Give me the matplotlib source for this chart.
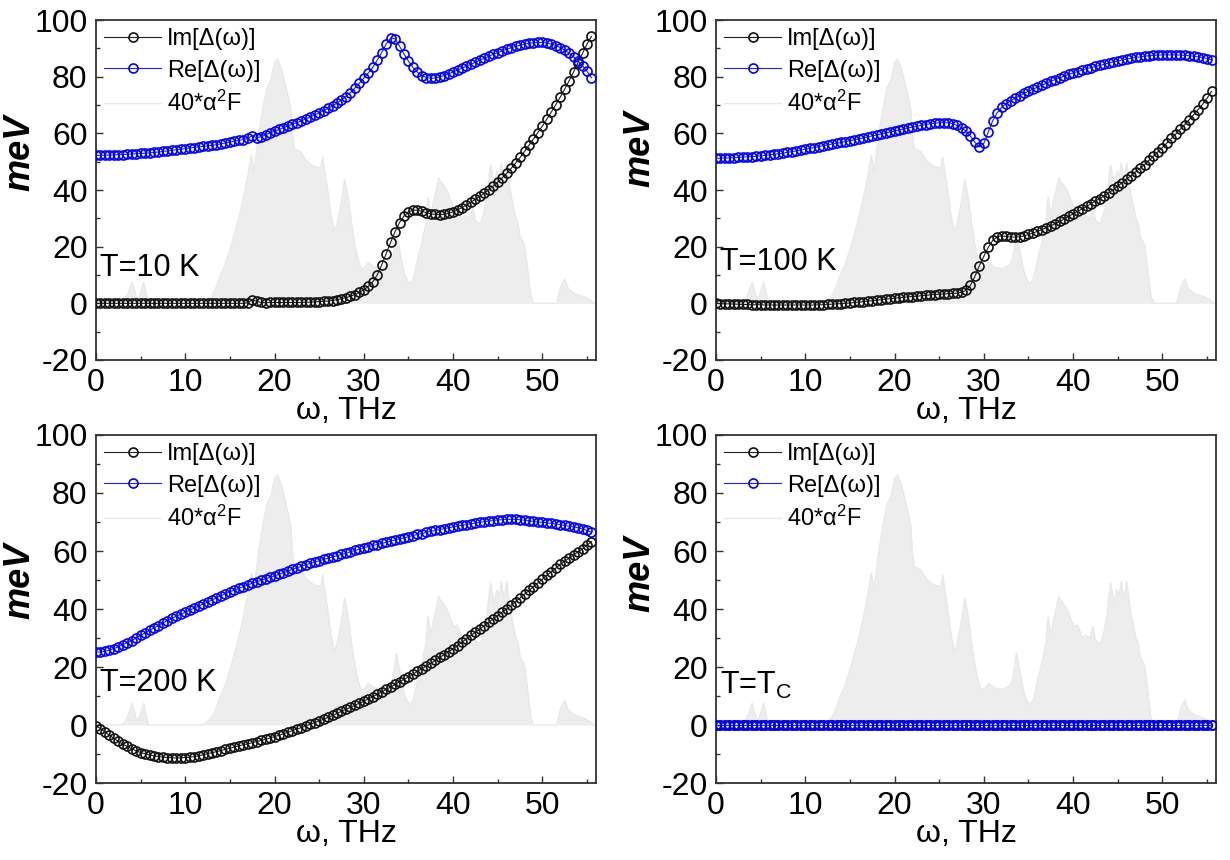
import numpy as np
import matplotlib
matplotlib.use("Agg")
import matplotlib.pyplot as plt

plt.rcParams['font.family'] = ['Liberation Sans', 'DejaVu Sans']
plt.rcParams['mathtext.fontset'] = 'custom'
plt.rcParams['mathtext.rm'] = 'Liberation Sans'
plt.rcParams['mathtext.it'] = 'Liberation Sans:italic'
plt.rcParams['axes.unicode_minus'] = False

# frequency grid of the Delta(omega) points, THz
omega = np.arange(0, 56, 0.5)

# 40*alpha^2F spectral function (same in all panels)
a2f_w = [0, 2.8, 3.2, 3.6, 4.05, 4.5, 4.8, 5.35, 5.65, 5.9, 11.8, 12.2, 12.6, 13.0, 13.5,
         13.9, 14.5, 15.0, 15.6, 16.2, 16.7, 17.1, 17.4, 17.7, 18.2, 18.5, 18.8, 19.2, 19.6,
         20.0, 20.35, 20.7, 21.0, 21.3, 21.6, 21.8, 22.0, 22.2, 22.6, 23.0, 23.4, 23.7, 24.1,
         24.45, 24.8, 25.2, 25.4, 25.6, 25.97, 26.3, 26.7, 27.0, 27.3, 27.6, 27.85, 28.1, 28.3,
         28.6, 28.97, 29.3, 29.7, 30.1, 30.5, 30.9, 31.2, 31.6, 32.0, 32.4, 32.7, 33.0, 33.3,
         33.65, 34.0, 34.3, 34.6, 35.0, 35.2, 35.55, 35.8, 36.1, 36.4, 36.65, 36.95, 37.2, 37.5,
         37.8, 38.1, 38.4, 38.6, 38.9, 39.2, 39.5, 39.8, 40.1, 40.5, 40.8, 41.0, 41.3, 41.6,
         41.9, 42.2, 42.5, 42.8, 43.1, 43.5, 43.8, 44.0, 44.2, 44.6, 44.9, 45.2, 45.4, 45.7,
         46.0, 46.4, 46.7, 47.0, 47.3, 47.5, 48.0, 48.3, 48.7, 49.0, 51.6, 52.0, 52.5, 52.9,
         53.6, 54.7, 55.4, 55.8]
a2f = [0, 0, 0.8, 3.5, 7.5, 2.3, 2.0, 7.5, 3.0, 0, 0, 0.6, 1.5, 2.8, 6.0,
       9.7, 14.0, 18.9, 25.5, 32.8, 40.0, 46.6, 52.3, 46.6, 59.2, 65.0, 70.7, 76.4, 78.7,
       85.0, 86.2, 83.3, 80.0, 76.0, 72.0, 69.0, 60.0, 54.6, 54.0, 53.4, 51.0, 50.0, 49.0,
       48.3, 48.0, 47.8, 51.7, 47.0, 39.6, 31.6, 25.3, 28.0, 32.7, 38.0, 43.7, 40.0, 36.2,
       29.0, 21.3, 16.0, 12.2, 12.5, 14.4, 13.5, 12.8, 12.5, 12.2, 12.8, 13.3, 14.0, 16.8,
       24.8, 19.1, 14.0, 9.9, 7.5, 7.1, 8.8, 12.0, 16.8, 20.0, 23.7, 28.0, 37.4, 31.0,
       36.0, 40.0, 44.3, 43.0, 42.0, 40.5, 38.5, 36.0, 33.9, 34.5, 32.0, 29.9, 31.0, 30.5,
       30.0, 33.9, 29.3, 28.5, 28.2, 32.8, 38.0, 44.3, 48.9, 42.0, 46.6, 45.0, 49.5, 43.2,
       49.5, 39.7, 35.0, 30.5, 28.0, 23.6, 20.7, 13.3, 2.9, 0, 0, 5.2, 8.6, 5.2,
       3.4, 2.3, 1.1, 0]

# T = 10 K
re_10 = [52.2, 52.2, 52.3, 52.3, 52.4, 52.5, 52.5, 52.6, 52.7, 52.8,
         52.9, 53.0, 53.1, 53.3, 53.4, 53.6, 53.8, 54.0, 54.2, 54.4,
         54.6, 54.8, 55.0, 55.2, 55.4, 55.6, 55.8, 56.0, 56.3, 56.6,
         56.9, 57.2, 57.5, 57.8, 58.2, 59.2, 58.4, 58.8, 59.5, 60.1,
         60.8, 61.4, 62.0, 62.6, 63.2, 63.8, 64.4, 65.1, 65.8, 66.5,
         67.2, 68.0, 68.8, 69.7, 70.7, 71.8, 73.0, 74.4, 76.0, 77.7,
         79.5, 81.3, 83.3, 85.8, 88.5, 91.5, 93.6, 93.4, 90.8, 88.0,
         85.5, 83.3, 81.6, 80.4, 79.7, 79.4, 79.5, 79.9, 80.4, 81.0,
         81.7, 82.3, 83.0, 83.7, 84.4, 85.1, 85.8, 86.5, 87.2, 87.9,
         88.5, 89.1, 89.7, 90.2, 90.7, 91.1, 91.5, 91.8, 92.0, 92.1,
         92.1, 91.9, 91.5, 91.0, 90.3, 89.4, 88.3, 87.0, 85.5, 83.8,
         81.9, 79.6]
im_10 = [0.0, 0.0, 0.0, 0.0, 0.0, 0.0, 0.0, 0.0, 0.0, 0.0,
         0.0, 0.0, 0.0, 0.0, 0.0, 0.0, 0.0, 0.0, 0.0, 0.0,
         0.0, 0.0, 0.0, 0.0, 0.0, 0.0, 0.0, 0.0, 0.0, 0.0,
         0.0, 0.0, 0.0, 0.0, 0.2, 1.3, 0.7, 0.3, 0.2, 0.3,
         0.3, 0.3, 0.3, 0.3, 0.3, 0.3, 0.3, 0.4, 0.4, 0.5,
         0.6, 0.7, 0.8, 1.0, 1.3, 1.6, 2.0, 2.5, 3.1, 3.9,
         4.8, 6.0, 7.6, 10.0, 13.5, 17.5, 21.5, 25.3, 28.5, 30.8,
         32.2, 32.9, 32.9, 32.5, 32.0, 31.6, 31.4, 31.3, 31.4, 31.8,
         32.3, 33.0, 33.8, 34.7, 35.7, 36.7, 37.8, 38.9, 40.1, 41.4,
         42.8, 44.3, 45.9, 47.6, 49.5, 51.5, 53.6, 55.8, 58.0, 60.3,
         62.6, 65.0, 67.5, 70.1, 72.8, 75.6, 78.6, 81.7, 85.0, 88.3,
         91.5, 94.2]

# T = 100 K
re_100 = [51.2, 51.2, 51.3, 51.3, 51.4, 51.5, 51.6, 51.7, 51.8, 51.9,
          52.0, 52.2, 52.4, 52.6, 52.8, 53.0, 53.3, 53.5, 53.8, 54.1,
          54.4, 54.7, 55.0, 55.3, 55.6, 55.9, 56.2, 56.5, 56.8, 57.1,
          57.4, 57.7, 58.0, 58.4, 58.7, 59.1, 59.4, 59.8, 60.1, 60.5,
          60.8, 61.2, 61.5, 61.9, 62.2, 62.5, 62.8, 63.1, 63.4, 63.6,
          63.7, 63.8, 63.7, 63.4, 62.8, 62.0, 60.8, 59.0, 56.8, 55.2,
          56.5, 60.5, 64.5, 67.3, 69.2, 70.5, 71.5, 72.4, 73.3, 74.1,
          74.9, 75.6, 76.3, 77.0, 77.7, 78.4, 79.0, 79.6, 80.2, 80.8,
          81.3, 81.8, 82.3, 82.8, 83.2, 83.6, 84.0, 84.4, 84.8, 85.2,
          85.5, 85.9, 86.2, 86.5, 86.8, 87.0, 87.2, 87.4, 87.5, 87.6,
          87.7, 87.7, 87.7, 87.7, 87.6, 87.5, 87.4, 87.2, 87.0, 86.7,
          86.4, 86.0]
im_100 = [0.0, -0.1, -0.2, -0.2, -0.3, -0.3, -0.4, -0.4, -0.5, -0.5,
          -0.5, -0.6, -0.6, -0.6, -0.6, -0.6, -0.6, -0.6, -0.6, -0.6,
          -0.6, -0.6, -0.6, -0.5, -0.5, -0.4, -0.3, -0.2, -0.1, 0.0,
          0.1, 0.3, 0.4, 0.6, 0.8, 0.9, 1.1, 1.3, 1.5, 1.6,
          1.8, 2.0, 2.1, 2.3, 2.4, 2.5, 2.7, 2.8, 3.0, 3.1,
          3.2, 3.3, 3.4, 3.5, 3.6, 3.9, 4.6, 6.3, 9.5, 13.3,
          16.6, 19.8, 22.2, 23.5, 23.8, 23.6, 23.4, 23.4, 23.5, 23.8,
          24.3, 24.8, 25.4, 26.0, 26.7, 27.4, 28.1, 28.9, 29.8, 30.7,
          31.6, 32.5, 33.3, 34.2, 35.1, 36.1, 37.0, 38.0, 39.0, 40.2,
          41.4, 42.6, 43.9, 45.1, 46.4, 47.7, 49.0, 50.5, 52.0, 53.5,
          55.0, 56.6, 58.2, 59.8, 61.4, 63.1, 64.8, 66.6, 68.4, 70.3,
          72.4, 74.8]

# T = 200 K
re_200 = [25.1, 25.2, 25.4, 25.8, 26.3, 27.0, 27.7, 28.4, 29.1, 30.0,
          30.9, 31.7, 32.6, 33.5, 34.3, 35.2, 36.0, 36.8, 37.5, 38.2,
          38.9, 39.6, 40.3, 41.0, 41.7, 42.4, 43.1, 43.9, 44.6, 45.3,
          45.9, 46.5, 47.1, 47.7, 48.3, 48.9, 49.4, 49.9, 50.4, 50.9,
          51.4, 52.0, 52.5, 53.1, 53.7, 54.2, 54.7, 55.2, 55.7, 56.2,
          56.6, 57.1, 57.5, 57.9, 58.4, 58.8, 59.2, 59.7, 60.2, 60.6,
          61.1, 61.5, 61.9, 62.2, 62.6, 63.0, 63.4, 63.8, 64.2, 64.5,
          64.9, 65.3, 65.7, 66.0, 66.4, 66.8, 67.1, 67.4, 67.7, 68.0,
          68.3, 68.6, 68.9, 69.1, 69.4, 69.6, 69.9, 70.1, 70.3, 70.5,
          70.7, 70.8, 70.9, 70.9, 70.9, 70.8, 70.6, 70.4, 70.2, 70.0,
          69.9, 69.7, 69.5, 69.3, 69.1, 68.8, 68.5, 68.3, 68.0, 67.6,
          67.1, 66.5]
im_200 = [-0.3, -1.2, -2.3, -3.5, -4.6, -5.6, -6.6, -7.4, -8.2, -8.9,
          -9.5, -9.9, -10.3, -10.6, -10.9, -11.1, -11.2, -11.3, -11.4, -11.3,
          -11.2, -11.1, -10.9, -10.6, -10.3, -9.9, -9.5, -9.2, -8.8, -8.4,
          -8.0, -7.6, -7.2, -6.8, -6.5, -6.1, -5.7, -5.3, -4.9, -4.5,
          -4.0, -3.5, -3.0, -2.5, -1.9, -1.4, -0.9, -0.3, 0.2, 0.8,
          1.4, 2.0, 2.6, 3.3, 4.0, 4.7, 5.4, 6.1, 6.8, 7.5,
          8.2, 9.0, 9.8, 10.6, 11.4, 12.3, 13.1, 14.0, 14.9, 15.7,
          16.6, 17.5, 18.5, 19.4, 20.4, 21.3, 22.3, 23.3, 24.3, 25.3,
          26.3, 27.4, 28.6, 29.7, 30.9, 32.0, 33.1, 34.3, 35.4, 36.6,
          37.7, 38.9, 40.0, 41.3, 42.5, 43.8, 45.1, 46.4, 47.7, 49.0,
          50.3, 51.6, 52.8, 54.1, 55.4, 56.5, 57.6, 58.7, 59.7, 60.8,
          62.0, 63.2]

# T = Tc: gap is zero everywhere
re_tc = np.zeros(len(omega))
im_tc = np.zeros(len(omega))

panel_labels = ['T=10 K', 'T=100 K', 'T=200 K', r'T=T$_\mathregular{C}$']
panel_re = [re_10, re_100, re_200, re_tc]
panel_im = [im_10, im_100, im_200, im_tc]
label_y = [12.5, 14.6, 14.5, 13.5]

# axes boxes in figure fractions (left, bottom, width, height)
boxes = [[0.078, 0.5814, 0.4065, 0.3953],
         [0.5821, 0.5814, 0.4065, 0.3953],
         [0.078, 0.0895, 0.4065, 0.4047],
         [0.5821, 0.0895, 0.4065, 0.4047]]
ylab_y = [0.61, 0.62, 0.58, 0.60]

fig = plt.figure(figsize=(12.3, 8.6), dpi=100)

for i in range(4):
    ax = fig.add_axes(boxes[i])
    ax.fill_between(a2f_w, 0, a2f, color='#ededed', lw=0, zorder=1)
    l3, = ax.plot(a2f_w, a2f, color='#e8e8e8', lw=1.0, zorder=1, label='40*α$^\\mathregular{2}$F')
    l1, = ax.plot(omega, panel_im[i], color='#222222', lw=0.8, marker='o', ms=6.5, mfc='none',
                  mec='#111111', mew=1.2, zorder=3, label='Im[Δ(ω)]')
    l2, = ax.plot(omega, panel_re[i], color='#2020ff', lw=0.8, marker='o', ms=6.5, mfc='none',
                  mec='#0000ff', mew=1.2, zorder=4, label='Re[Δ(ω)]')

    ax.set_xlim(0, 56)
    ax.set_ylim(-20, 100)
    ax.set_xticks([0, 10, 20, 30, 40, 50])
    ax.set_xticks([5, 15, 25, 35, 45, 55], minor=True)
    ax.set_yticks([-20, 0, 20, 40, 60, 80, 100])
    ax.set_yticks([-10, 10, 30, 50, 70, 90], minor=True)
    ax.tick_params(which='both', direction='in', top=False, right=False,
                   labelsize=23, pad=6, width=1.0, color='#333333')
    ax.tick_params(which='major', length=5)
    ax.tick_params(which='minor', length=3)
    for sp in ax.spines.values():
        sp.set_linewidth(1.3)
        sp.set_color('#333333')

    ax.set_xlabel('ω, THz', fontsize=23, labelpad=-2)
    ax.set_ylabel('meV', fontsize=26, fontweight='bold', fontstyle='italic')
    ax.yaxis.set_label_coords(-0.118, ylab_y[i])

    ax.text(0.5, label_y[i], panel_labels[i], fontsize=22, ha='left', va='center', zorder=5)

    ax.legend(handles=[l1, l2, l3], loc='upper left', frameon=False, fontsize=17,
              handlelength=2.4, handletextpad=0.25, labelspacing=0.4,
              borderpad=0.15, borderaxespad=0.2)

fig.savefig('out.png', dpi=100)
